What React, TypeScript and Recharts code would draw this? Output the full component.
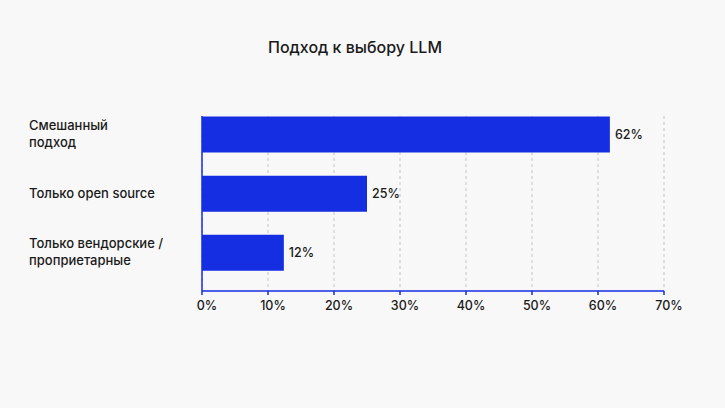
import React from "react";
import { BarChart, Bar, XAxis, YAxis, CartesianGrid, LabelList } from "recharts";

const title = "Подход к выбору LLM";
const categories = ["Смешанный\nподход", "Только open source", "Только вендорские /\nпроприетарные"];
const shares = [61.8, 25, 12.4];
const xTicks = [0, 10, 20, 30, 40, 50, 60, 70];

const data = categories.map((c, i) => ({ name: c, value: shares[i] }));

const BLUE = "#162ee2";
const FONT = "Inter, 'Noto Sans', sans-serif";

const YTick = (props: any) => {
  const { y, payload } = props;
  const lines = String(payload.value).split("\n");
  const lh = 17;
  const start = y - ((lines.length - 1) * lh) / 2;
  return (
    <text x={29} y={start} textAnchor="start" fill="#1a1a1a" fontSize={13} fontWeight={500} fontFamily={FONT}>
      {lines.map((l, i) => (
        <tspan key={i} x={29} y={start + i * lh} dy="0.35em">
          {l}
        </tspan>
      ))}
    </text>
  );
};

export default function App() {
  return (
    <div style={{ position: "fixed", left: 0, top: 0, width: 725, height: 408, background: "#f8f8f8" }}>
      <div
        style={{
          position: "absolute",
          left: 0,
          width: 710,
          top: 38,
          textAlign: "center",
          fontFamily: FONT,
          fontSize: 16,
          fontWeight: 500,
          color: "#1a1a1a",
          lineHeight: "18px",
        }}
      >
        {title}
      </div>
      <BarChart
        width={725}
        height={408}
        data={data}
        layout="vertical"
        margin={{ top: 116, right: 61, bottom: 87, left: 0 }}
      >
        <CartesianGrid horizontal={false} stroke="#c4c4c4" strokeDasharray="3 3" />
        <XAxis
          type="number"
          domain={[0, 70]}
          ticks={xTicks}
          interval={0}
          tickFormatter={(v) => `${v}%`}
          height={30}
          axisLine={{ stroke: BLUE, strokeWidth: 1.5 }}
          tickLine={{ stroke: BLUE, strokeWidth: 1.5 }}
          tickSize={4}
          tick={{ fill: "#1a1a1a", fontSize: 12.5, fontWeight: 500, fontFamily: FONT, dx: 5, dy: 4 }}
        />
        <YAxis
          type="category"
          dataKey="name"
          width={202}
          padding={{ top: -11.5, bottom: 9 }}
          axisLine={{ stroke: BLUE, strokeWidth: 1.5 }}
          tickLine={false}
          tick={<YTick />}
        />
        <Bar dataKey="value" fill={BLUE} barSize={36} isAnimationActive={false}>
          <LabelList
            dataKey="value"
            position="right"
            offset={5}
            formatter={(v: any) => `${Math.round(Number(v))}%`}
            fill="#1a1a1a"
            fontSize={12.5}
            fontWeight={500}
            fontFamily={FONT}
          />
        </Bar>
      </BarChart>
    </div>
  );
}
